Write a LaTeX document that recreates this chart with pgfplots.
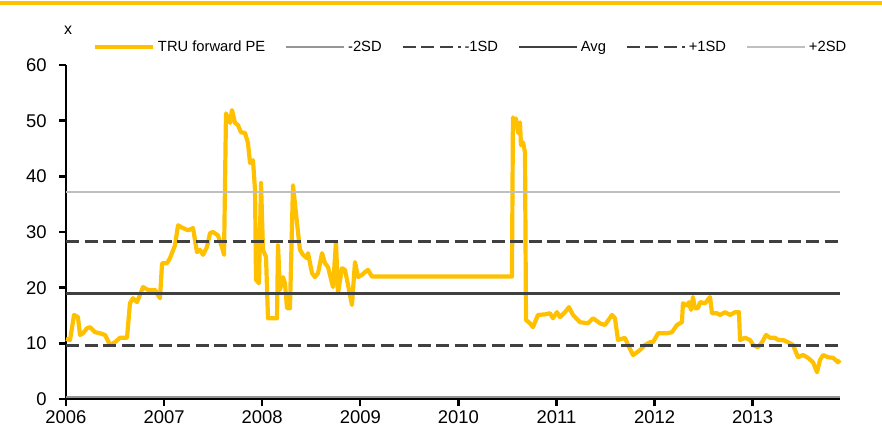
\documentclass[border=0pt]{standalone}
\usepackage{fontspec}
\setmainfont{Liberation Sans}
\usepackage{pgfplots}
\pgfplotsset{compat=1.18}
\usepackage{pgfplotstable}
\definecolor{ey}{RGB}{255,192,0}
\definecolor{dk}{RGB}{64,64,64}
\definecolor{g2}{RGB}{150,150,150}
\definecolor{g3}{RGB}{191,191,191}
\pgfplotstableread{
x y
2006.000 10.8
2006.041 10.6
2006.082 15.1
2006.122 14.7
2006.143 11.5
2006.173 11.8
2006.214 12.7
2006.245 12.9
2006.296 12.0
2006.347 11.8
2006.398 11.5
2006.449 9.7
2006.500 10.2
2006.550 11.0
2006.622 11.0
2006.652 17.2
2006.683 18.1
2006.724 17.4
2006.785 20.1
2006.836 19.6
2006.907 19.6
2006.958 18.1
2006.979 24.4
2007.030 24.4
2007.060 25.3
2007.111 27.6
2007.142 31.2
2007.193 30.7
2007.244 30.3
2007.295 30.7
2007.335 26.4
2007.366 26.8
2007.397 25.9
2007.437 27.3
2007.468 29.8
2007.498 30.0
2007.549 29.4
2007.590 27.3
2007.611 25.9
2007.631 51.3
2007.672 49.6
2007.692 51.9
2007.723 49.6
2007.753 49.2
2007.784 47.9
2007.825 47.8
2007.855 46.0
2007.876 42.4
2007.906 42.9
2007.927 37.5
2007.937 21.4
2007.967 20.8
2007.988 38.8
2008.008 26.8
2008.039 25.5
2008.059 14.5
2008.151 14.5
2008.161 27.6
2008.181 19.6
2008.212 21.9
2008.232 20.8
2008.253 16.3
2008.283 16.3
2008.314 38.4
2008.355 31.6
2008.385 26.8
2008.416 25.9
2008.457 25.3
2008.467 26.2
2008.508 22.6
2008.538 21.9
2008.569 22.6
2008.610 26.2
2008.640 24.4
2008.671 23.7
2008.712 20.8
2008.722 20.1
2008.752 28.2
2008.773 19.0
2008.813 23.5
2008.844 23.2
2008.875 20.5
2008.915 16.9
2008.946 24.6
2008.977 21.9
2009.017 22.3
2009.048 22.8
2009.078 23.2
2009.119 22.0
2010.546 22.0
2010.556 50.6
2010.567 49.7
2010.587 50.4
2010.608 47.8
2010.628 49.7
2010.638 45.6
2010.659 46.1
2010.679 44.3
2010.689 14.2
2010.730 13.6
2010.760 12.9
2010.811 15.1
2010.883 15.2
2010.934 15.4
2010.964 14.5
2011.005 15.6
2011.036 14.7
2011.087 15.6
2011.127 16.5
2011.168 15.1
2011.240 13.8
2011.321 13.6
2011.372 14.5
2011.443 13.6
2011.494 13.3
2011.566 15.1
2011.596 14.5
2011.627 10.6
2011.698 11.0
2011.729 9.7
2011.780 7.9
2011.821 8.4
2011.851 8.8
2011.902 9.7
2011.953 10.2
2011.984 10.2
2012.035 11.8
2012.126 11.8
2012.177 12.0
2012.228 13.3
2012.279 13.8
2012.289 17.2
2012.330 16.8
2012.350 17.4
2012.371 16.0
2012.391 18.3
2012.411 16.3
2012.442 16.3
2012.463 17.4
2012.514 17.2
2012.565 18.3
2012.585 15.4
2012.636 15.4
2012.667 15.1
2012.718 15.6
2012.769 15.1
2012.820 15.6
2012.860 15.6
2012.871 10.6
2012.922 11.0
2012.973 10.6
2013.003 9.7
2013.054 9.3
2013.095 10.2
2013.136 11.5
2013.176 11.0
2013.227 11.0
2013.258 10.6
2013.309 10.6
2013.360 10.2
2013.411 9.7
2013.462 7.5
2013.513 7.9
2013.564 7.4
2013.615 6.6
2013.656 4.8
2013.686 7.0
2013.717 7.9
2013.768 7.5
2013.819 7.4
2013.869 6.6
2013.890 7.0
}\pe
\begin{document}
\begin{tikzpicture}
\useasboundingbox (-66bp,-29bp) rectangle (816bp,399bp);
\fill[ey] (-66bp,393.5bp) rectangle (816bp,398bp);
\begin{axis}[
  at={(0,0)}, anchor=south west,
  scale only axis, width=774bp, height=334bp,
  xmin=2006, xmax=2013.89, ymin=0, ymax=60,
  axis x line=bottom, axis y line=left,
  axis line style={-, line width=2.8bp, black},
  tick align=outside, major tick length=7bp,
  tick style={black, line width=2.4bp},
  xtick={2006,2007,...,2013},
  xticklabels={2006,2007,2008,2009,2010,2011,2012,2013},
  ytick={0,10,...,60},
  /pgf/number format/assume math mode=true,
  ticklabel style={font=\fontsize{18.5}{20}\selectfont},
  yticklabel style={xshift=-9bp},
  xticklabel style={yshift=-3bp, inner ysep=1bp},
  clip=false,
  legend columns=6,
  legend cell align=left,
  legend style={at={(0.035,1.054)}, anchor=west, draw=none, fill=none,
    font=\fontsize{14.8}{16}\selectfont, inner sep=0pt,
    nodes={inner sep=2.5bp},
    /tikz/every even column/.append style={column sep=17bp}},
  legend image code/.code={\draw[#1] (0bp,0bp) -- (58bp,0bp);},
]
\addplot[ey, line width=4.2bp, line join=round] table {\pe};
\addlegendentry{TRU forward PE}
\addplot[g2, line width=2.8bp] coordinates {(2006,0.35) (2013.89,0.35)};
\addlegendentry{-2SD}
\addplot[dk, line width=2.8bp, dash pattern=on 13bp off 5.5bp] coordinates {(2006,9.6) (2013.89,9.6)};
\addlegendentry{-1SD}
\addplot[dk, line width=2.8bp] coordinates {(2006,18.9) (2013.89,18.9)};
\addlegendentry{Avg}
\addplot[dk, line width=2.8bp, dash pattern=on 13bp off 5.5bp] coordinates {(2006,28.3) (2013.89,28.3)};
\addlegendentry{+1SD}
\addplot[g3, line width=2.8bp] coordinates {(2006,37.2) (2013.89,37.2)};
\addlegendentry{+2SD}
\end{axis}
\node[font=\fontsize{16}{18}\selectfont, anchor=center] at (2bp,369bp) {x};
\end{tikzpicture}
\end{document}
